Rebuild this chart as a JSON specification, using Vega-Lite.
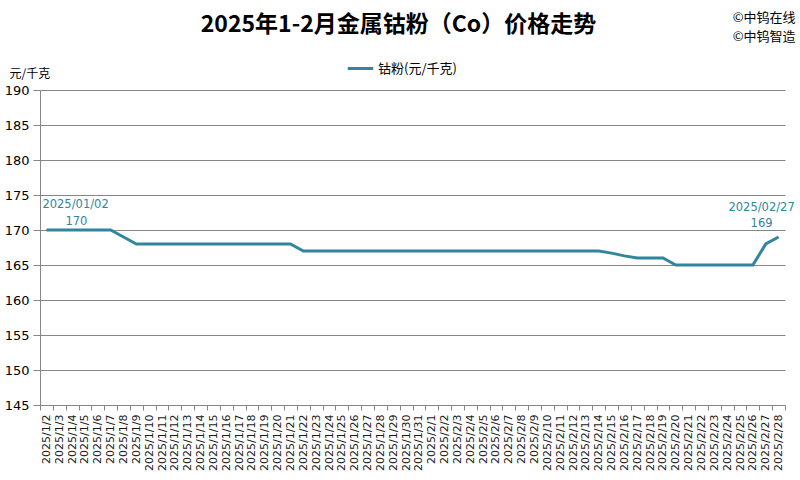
{
  "$schema": "https://vega.github.io/schema/vega-lite/v6.json",
  "width": 745,
  "height": 315,
  "autosize": {"type": "none"},
  "padding": {"left": 40, "top": 90, "right": 15, "bottom": 75},
  "background": "white",
  "title": {
    "text": "2025年1-2月金属钴粉（Co）价格走势",
    "font": "Noto Sans CJK SC",
    "fontSize": 23,
    "fontWeight": "bold",
    "color": "#000000",
    "anchor": "middle",
    "dx": -14,
    "dy": 30
  },
  "data": {"values": [
    {"date": "2025/1/2", "price": 170, "tag": "2025/01/02", "series": "钴粉(元/千克)"},
    {"date": "2025/1/3", "price": 170, "series": "钴粉(元/千克)"},
    {"date": "2025/1/4", "price": 170, "series": "钴粉(元/千克)"},
    {"date": "2025/1/5", "price": 170, "series": "钴粉(元/千克)"},
    {"date": "2025/1/6", "price": 170, "series": "钴粉(元/千克)"},
    {"date": "2025/1/7", "price": 170, "series": "钴粉(元/千克)"},
    {"date": "2025/1/8", "price": 169, "series": "钴粉(元/千克)"},
    {"date": "2025/1/9", "price": 168, "series": "钴粉(元/千克)"},
    {"date": "2025/1/10", "price": 168, "series": "钴粉(元/千克)"},
    {"date": "2025/1/11", "price": 168, "series": "钴粉(元/千克)"},
    {"date": "2025/1/12", "price": 168, "series": "钴粉(元/千克)"},
    {"date": "2025/1/13", "price": 168, "series": "钴粉(元/千克)"},
    {"date": "2025/1/14", "price": 168, "series": "钴粉(元/千克)"},
    {"date": "2025/1/15", "price": 168, "series": "钴粉(元/千克)"},
    {"date": "2025/1/16", "price": 168, "series": "钴粉(元/千克)"},
    {"date": "2025/1/17", "price": 168, "series": "钴粉(元/千克)"},
    {"date": "2025/1/18", "price": 168, "series": "钴粉(元/千克)"},
    {"date": "2025/1/19", "price": 168, "series": "钴粉(元/千克)"},
    {"date": "2025/1/20", "price": 168, "series": "钴粉(元/千克)"},
    {"date": "2025/1/21", "price": 168, "series": "钴粉(元/千克)"},
    {"date": "2025/1/22", "price": 167, "series": "钴粉(元/千克)"},
    {"date": "2025/1/23", "price": 167, "series": "钴粉(元/千克)"},
    {"date": "2025/1/24", "price": 167, "series": "钴粉(元/千克)"},
    {"date": "2025/1/25", "price": 167, "series": "钴粉(元/千克)"},
    {"date": "2025/1/26", "price": 167, "series": "钴粉(元/千克)"},
    {"date": "2025/1/27", "price": 167, "series": "钴粉(元/千克)"},
    {"date": "2025/1/28", "price": 167, "series": "钴粉(元/千克)"},
    {"date": "2025/1/29", "price": 167, "series": "钴粉(元/千克)"},
    {"date": "2025/1/30", "price": 167, "series": "钴粉(元/千克)"},
    {"date": "2025/1/31", "price": 167, "series": "钴粉(元/千克)"},
    {"date": "2025/2/1", "price": 167, "series": "钴粉(元/千克)"},
    {"date": "2025/2/2", "price": 167, "series": "钴粉(元/千克)"},
    {"date": "2025/2/3", "price": 167, "series": "钴粉(元/千克)"},
    {"date": "2025/2/4", "price": 167, "series": "钴粉(元/千克)"},
    {"date": "2025/2/5", "price": 167, "series": "钴粉(元/千克)"},
    {"date": "2025/2/6", "price": 167, "series": "钴粉(元/千克)"},
    {"date": "2025/2/7", "price": 167, "series": "钴粉(元/千克)"},
    {"date": "2025/2/8", "price": 167, "series": "钴粉(元/千克)"},
    {"date": "2025/2/9", "price": 167, "series": "钴粉(元/千克)"},
    {"date": "2025/2/10", "price": 167, "series": "钴粉(元/千克)"},
    {"date": "2025/2/11", "price": 167, "series": "钴粉(元/千克)"},
    {"date": "2025/2/12", "price": 167, "series": "钴粉(元/千克)"},
    {"date": "2025/2/13", "price": 167, "series": "钴粉(元/千克)"},
    {"date": "2025/2/14", "price": 167, "series": "钴粉(元/千克)"},
    {"date": "2025/2/15", "price": 166.7, "series": "钴粉(元/千克)"},
    {"date": "2025/2/16", "price": 166.3, "series": "钴粉(元/千克)"},
    {"date": "2025/2/17", "price": 166, "series": "钴粉(元/千克)"},
    {"date": "2025/2/18", "price": 166, "series": "钴粉(元/千克)"},
    {"date": "2025/2/19", "price": 166, "series": "钴粉(元/千克)"},
    {"date": "2025/2/20", "price": 165, "series": "钴粉(元/千克)"},
    {"date": "2025/2/21", "price": 165, "series": "钴粉(元/千克)"},
    {"date": "2025/2/22", "price": 165, "series": "钴粉(元/千克)"},
    {"date": "2025/2/23", "price": 165, "series": "钴粉(元/千克)"},
    {"date": "2025/2/24", "price": 165, "series": "钴粉(元/千克)"},
    {"date": "2025/2/25", "price": 165, "series": "钴粉(元/千克)"},
    {"date": "2025/2/26", "price": 165, "series": "钴粉(元/千克)"},
    {"date": "2025/2/27", "price": 168, "series": "钴粉(元/千克)"},
    {"date": "2025/2/28", "price": 169, "tag": "2025/02/27", "series": "钴粉(元/千克)"}
  ]},
  "resolve": {"axis": {"x": "independent"}},
  "layer": [
    {
      "mark": {"type": "line", "strokeWidth": 3, "strokeJoin": "miter"},
      "encoding": {
        "x": {
          "field": "date", "type": "ordinal", "sort": null,
          "scale": {"type": "band", "paddingInner": 0, "paddingOuter": 0},
          "axis": {
            "title": null,
            "labelAngle": -90,
            "labelAlign": "right",
            "labelBaseline": "middle",
            "labelFont": "DejaVu Sans",
            "labelFontSize": 11,
            "labelColor": "#1a1a1a",
            "labelPadding": 4,
            "labelOverlap": false,
            "labelBound": false,
            "labelFlush": false,
            "tickBand": "extent",
            "tickSize": 5,
            "tickColor": "#868686",
            "domainColor": "#868686",
            "grid": false
          }
        },
        "y": {
          "field": "price", "type": "quantitative",
          "scale": {"domain": [145, 190], "nice": false, "zero": false},
          "axis": {
            "values": [145, 150, 155, 160, 165, 170, 175, 180, 185, 190],
            "tickCount": 20,
            "labelOverlap": false,
            "title": "元/千克",
            "titleFont": "Noto Sans CJK SC",
            "titleFontSize": 12,
            "titleFontWeight": "normal",
            "titleColor": "#000000",
            "titleAngle": 0,
            "titleAlign": "left",
            "titleBaseline": "middle",
            "titleX": -31,
            "titleY": -17,
            "labelFont": "DejaVu Sans",
            "labelFontSize": 13,
            "labelColor": "#000000",
            "labelPadding": 4,
            "tickSize": 7,
            "tickColor": "#868686",
            "domainColor": "#868686",
            "gridColor": "#868686",
            "gridWidth": 1,
            "gridOpacity": 1
          }
        },
        "color": {
          "field": "series", "type": "nominal",
          "scale": {"range": ["#31859C"]},
          "legend": {
            "title": null,
            "orient": "none",
            "legendX": 306,
            "legendY": -36,
            "symbolType": "stroke",
            "symbolStrokeWidth": 3,
            "symbolSize": 650,
            "labelFont": "Noto Sans CJK SC",
            "labelFontSize": 13,
            "labelColor": "#000000",
            "labelOffset": 3
          }
        }
      }
    },
    {
      "transform": [{"filter": "datum.date == '2025/1/2'"}],
      "mark": {"type": "text", "align": "left", "baseline": "middle", "dx": -4, "dy": -25, "font": "DejaVu Sans", "fontSize": 11.5, "color": "#31859C"},
      "encoding": {
        "x": {"field": "date", "type": "ordinal", "sort": null, "axis": null},
        "y": {"field": "price", "type": "quantitative"},
        "text": {"field": "tag"}
      }
    },
    {
      "transform": [{"filter": "datum.date == '2025/1/2'"}],
      "mark": {"type": "text", "align": "center", "baseline": "middle", "dx": 30, "dy": -8, "font": "DejaVu Sans", "fontSize": 11.5, "color": "#31859C"},
      "encoding": {
        "x": {"field": "date", "type": "ordinal", "sort": null, "axis": null},
        "y": {"field": "price", "type": "quantitative"},
        "text": {"field": "price"}
      }
    },
    {
      "transform": [{"filter": "datum.date == '2025/2/28'"}],
      "mark": {"type": "text", "align": "center", "baseline": "middle", "dx": -17, "dy": -29, "font": "DejaVu Sans", "fontSize": 11.5, "color": "#31859C"},
      "encoding": {
        "x": {"field": "date", "type": "ordinal", "sort": null, "axis": null},
        "y": {"field": "price", "type": "quantitative"},
        "text": {"field": "tag"}
      }
    },
    {
      "transform": [{"filter": "datum.date == '2025/2/28'"}],
      "mark": {"type": "text", "align": "center", "baseline": "middle", "dx": -17, "dy": -13, "font": "DejaVu Sans", "fontSize": 11.5, "color": "#31859C"},
      "encoding": {
        "x": {
          "field": "date", "type": "ordinal", "sort": null,
          "axis": {
            "orient": "top",
            "labels": false,
            "ticks": false,
            "domain": false,
            "grid": false,
            "title": ["©中钨在线", "©中钨智造"],
            "titleFont": "Noto Sans CJK SC",
            "titleFontSize": 13,
            "titleFontWeight": "normal",
            "titleColor": "#000000",
            "titleAlign": "right",
            "titleAnchor": "end",
            "titleBaseline": "top",
            "titleLineHeight": 19,
            "titleX": 755,
            "titleY": -79
          }
        },
        "y": {"field": "price", "type": "quantitative"},
        "text": {"field": "price"}
      }
    }
  ],
  "config": {
    "view": {"stroke": null},
    "axis": {"domainWidth": 1, "tickWidth": 1}
  }
}
